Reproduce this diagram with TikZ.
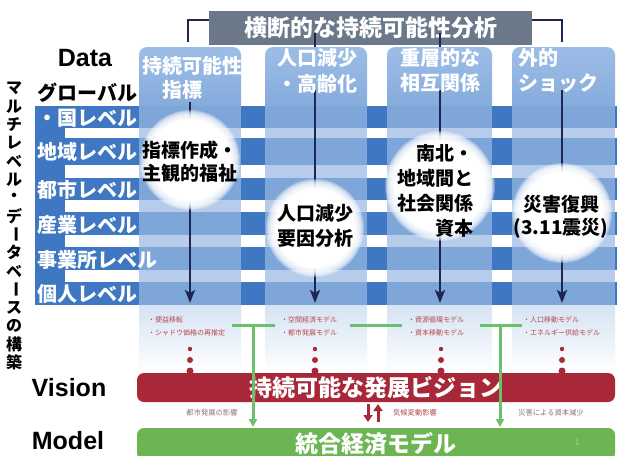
\documentclass[tikz,border=0pt]{standalone}
\usepackage{fontspec}
\usepackage{graphicx}
\newfontfamily\jp{Noto Sans CJK JP}
\newfontfamily\lat{Liberation Sans}
\usetikzlibrary{arrows.meta}
\definecolor{bandblue}{HTML}{3F77C2}
\definecolor{colband}{HTML}{7EA6D9}
\definecolor{colstripe}{HTML}{B6CCEA}
\definecolor{hdrtop}{HTML}{9DBDE6}
\definecolor{hdrbot}{HTML}{7EA6D9}
\definecolor{lowtop}{HTML}{D6E3F3}
\definecolor{navyc}{HTML}{1E2656}
\definecolor{titlegray}{HTML}{6B7889}
\definecolor{visred}{HTML}{A8283A}
\definecolor{modgreen}{HTML}{6DB553}
\definecolor{glgreen}{HTML}{6CC06C}
\definecolor{smallred}{HTML}{B54848}
\definecolor{smallgray}{HTML}{8A7070}
\newcommand\glowdisk[3]{%
  \foreach \k in {0,...,8}{\fill[white,opacity=0.28] (#1,#2) circle ({(#3-\k*1.0)*1pt});}
  \fill[white] (#1,#2) circle ({(#3-9)*1pt});}
\tikzset{
  hdrtext/.style={font=\jp\bfseries\fontsize{20}{24}\selectfont, text=white, inner sep=0pt, anchor=west},
  lvltext/.style={font=\jp\bfseries\fontsize{20}{24}\selectfont, text=white, inner sep=0pt, anchor=west},
  circtext/.style={font=\jp\bfseries\fontsize{19}{#1}\selectfont, text=black, inner sep=0pt},
  lattext/.style={font=\lat\bfseries\fontsize{25}{28}\selectfont, text=black, inner sep=0pt},
  verttext/.style={font=\jp\bfseries\fontsize{16}{18}\selectfont, text=black, inner sep=0pt},
  tinytext/.style={font=\jp\fontsize{7}{13}\selectfont, text=smallred, inner sep=0pt, anchor=west, align=left},
  midtext/.style={font=\jp\fontsize{7.3}{9}\selectfont, text=#1, inner sep=0pt},
  navyarrow/.style={draw=navyc, line width=2.8pt, -{Stealth[length=13pt,width=10pt,inset=3pt]}},
  navyseg/.style={draw=navyc, line width=2.8pt},
  greenseg/.style={draw=glgreen, line width=3.5pt},
  greenarrow/.style={draw=glgreen, line width=3pt, -{Triangle[length=8pt,width=8pt]}},
  redarrow/.style={draw=visred, line width=3pt, -{Triangle[length=7pt,width=9pt]}},
}
\begin{document}
\begin{tikzpicture}[x=1pt,y=-1pt]
\useasboundingbox (0,0) rectangle (617,455);
% column headers and lower areas
\foreach \l/\r in {139/241,265/367,387/492,512/615}{
  \shade[top color=hdrtop, bottom color=hdrbot, rounded corners=8pt] (\l,47) rectangle (\r,125);
  \shade[top color=lowtop, bottom color=white] (\l,305) rectangle (\r,373);
}
% level bands
\foreach \a/\b in {106/128,138/165,178/200,212/235,247/270,282/305}{
  \fill[bandblue] (35,\a) rectangle (617,\b);
  \foreach \l/\r in {139/241,265/367,387/492,512/615}{\fill[colband] (\l,\a) rectangle (\r,\b);}
}
\foreach \a/\b in {128/138,165/178,200/212,235/247,270/282}{
  \fill[bandblue] (35,\a) rectangle (65,\b);
  \foreach \l/\r in {139/241,265/367,387/492,512/615}{\fill[colstripe] (\l,\a) rectangle (\r,\b);}
}
% column arrows
\foreach \x/\s [count=\i] in {190/102,315/90,440/90,562/90}{
  \coordinate (as\i) at (\x,\s);
  \coordinate (ae\i) at (\x,303);
  \draw[navyarrow] (as\i) -- (ae\i);
}
% glows
\glowdisk{190}{160}{50}
\glowdisk{315}{228}{49}
\glowdisk{440}{186}{55}
\glowdisk{562}{213}{50}
% bracket and title
\coordinate (brLa) at (188,42);
\coordinate (brLb) at (188,20);
\coordinate (brLc) at (212,20);
\coordinate (brRa) at (529,20);
\coordinate (brRb) at (562,20);
\coordinate (brRc) at (562,42);
\draw[navyseg] (brLa) -- (brLb) -- (brLc);
\draw[navyseg] (brRa) -- (brRb) -- (brRc);
\node[fill=titlegray, minimum width=323pt, minimum height=34pt, inner sep=0pt,
  font=\jp\bfseries\fontsize{23}{27}\selectfont, text=white] (title) at (370.5,28) {横断的な持続可能性分析};
\coordinate (tk2a) at (315,33);
\coordinate (tk2b) at (315,47);
\coordinate (tk3a) at (440,33);
\coordinate (tk3b) at (440,47);
\draw[navyseg] (tk2a) -- (tk2b);
\draw[navyseg] (tk3a) -- (tk3b);
% column header texts
\node[hdrtext] (h1a) at (142,66) {持続可能性};
\node[hdrtext] (h1b) at (162,90) {指標};
\node[hdrtext] (h2a) at (277,58) {人口減少};
\node[hdrtext] (h2b) at (277,84) {・高齢化};
\node[hdrtext] (h3a) at (400,58) {重層的な};
\node[hdrtext] (h3b) at (400,83) {相互関係};
\node[hdrtext] (h4a) at (518,58) {外的};
\node[hdrtext] (h4b) at (518,83) {ショック};
% circle texts
\node[circtext=23, align=left] (c1) at (190,161.5) {指標作成・\\主観的福祉};
\node[circtext=25, align=left] (c2) at (315,225.5) {人口減少\\要因分析};
\node[circtext=25, align=right, anchor=east] (c3) at (474,190.5) {南北・\\地域間と\\社会関係\\資本};
\node[circtext=23, align=center] (c4) at (561,216.5) {災害復興\\(3.11震災)};
% level labels
\node[lvltext, text=black] (l0) at (37,93) {グローバル};
\node[lvltext] (l1) at (37,118) {・国レベル};
\node[lvltext] (l2) at (37,152) {地域レベル};
\node[lvltext] (l3) at (37,190) {都市レベル};
\node[lvltext] (l4) at (37,225) {産業レベル};
\node[lvltext] (l5) at (37,260) {事業所レベル};
\node[lvltext] (l6) at (37,294) {個人レベル};
% left labels
\node[lattext] (data) at (85,58) {Data};
\node[lattext] (vis) at (69,388) {Vision};
\node[lattext] (mod) at (68,441) {Model};
\foreach \c [count=\i] in {マ,ル,チ,レ,ベ,ル,・,デ,{\rotatebox[origin=c]{-90}{ー}},タ,ベ,{\rotatebox[origin=c]{-90}{ー}},ス,の,構,築}{
  \node[verttext] (v\i) at (14,{88+(\i-1)*18.3}) {\c};
}
% tiny model lists
\node[tinytext] (m1) at (148,326.5) {・便益移転\\・シャドウ価格の再推定};
\node[tinytext] (m2) at (281,326.5) {・空間経済モデル\\・都市発展モデル};
\node[tinytext] (m3) at (408,326.5) {・資源循環モデル\\・資本移動モデル};
\node[tinytext] (m4) at (523,326.5) {・人口移動モデル\\・エネルギー供給モデル};
% vision and model bars
\node[fill=visred, rounded corners=7pt, minimum width=478pt, minimum height=29pt, inner sep=0pt,
  font=\jp\bfseries\fontsize{23}{27}\selectfont, text=white] (vision) at (376,387.5) {持続可能な発展ビジョン};
\foreach \x in {190,315,441,562}{
  \fill[visred] (\x,349) circle (2.2pt);
  \fill[visred] (\x,360) circle (3pt);
  \fill[visred] (\x,371) circle (3.5pt);
}
\node[fill=modgreen, rounded corners=7pt, minimum width=478pt, minimum height=32pt, inner sep=0pt,
  font=\jp\bfseries\fontsize{23}{27}\selectfont, text=white] (model) at (376,444) {統合経済モデル};
\node[font=\jp\fontsize{8}{9}\selectfont, text=modgreen!55!white, inner sep=0pt] (pg) at (577,443) {1};
% green links
\coordinate (g1a) at (232,325.5);
\coordinate (g1b) at (275,325.5);
\coordinate (g1t) at (253,325.5);
\coordinate (g1e) at (253,427);
\coordinate (g2a) at (350,325.5);
\coordinate (g2b) at (402,325.5);
\coordinate (g3a) at (480,325.5);
\coordinate (g3b) at (522,325.5);
\coordinate (g3t) at (500,325.5);
\coordinate (g3e) at (500,427);
\draw[greenseg] (g1a) -- (g1b);
\draw[greenseg] (g2a) -- (g2b);
\draw[greenseg] (g3a) -- (g3b);
\draw[greenarrow] (g1t) -- (g1e);
\draw[greenarrow] (g3t) -- (g3e);
% middle texts
\node[midtext=smallgray] (e1) at (212,413) {都市発展の影響};
\node[midtext=smallred] (e2) at (415,413) {気候変動影響};
\node[midtext=smallgray] (e3) at (551,413) {災害による資本減少};
\coordinate (rd1) at (368,404);
\coordinate (rd2) at (368,422);
\coordinate (ru1) at (378,422);
\coordinate (ru2) at (378,404);
\draw[redarrow] (rd1) -- (rd2);
\draw[redarrow] (ru1) -- (ru2);
\end{tikzpicture}
\end{document}
